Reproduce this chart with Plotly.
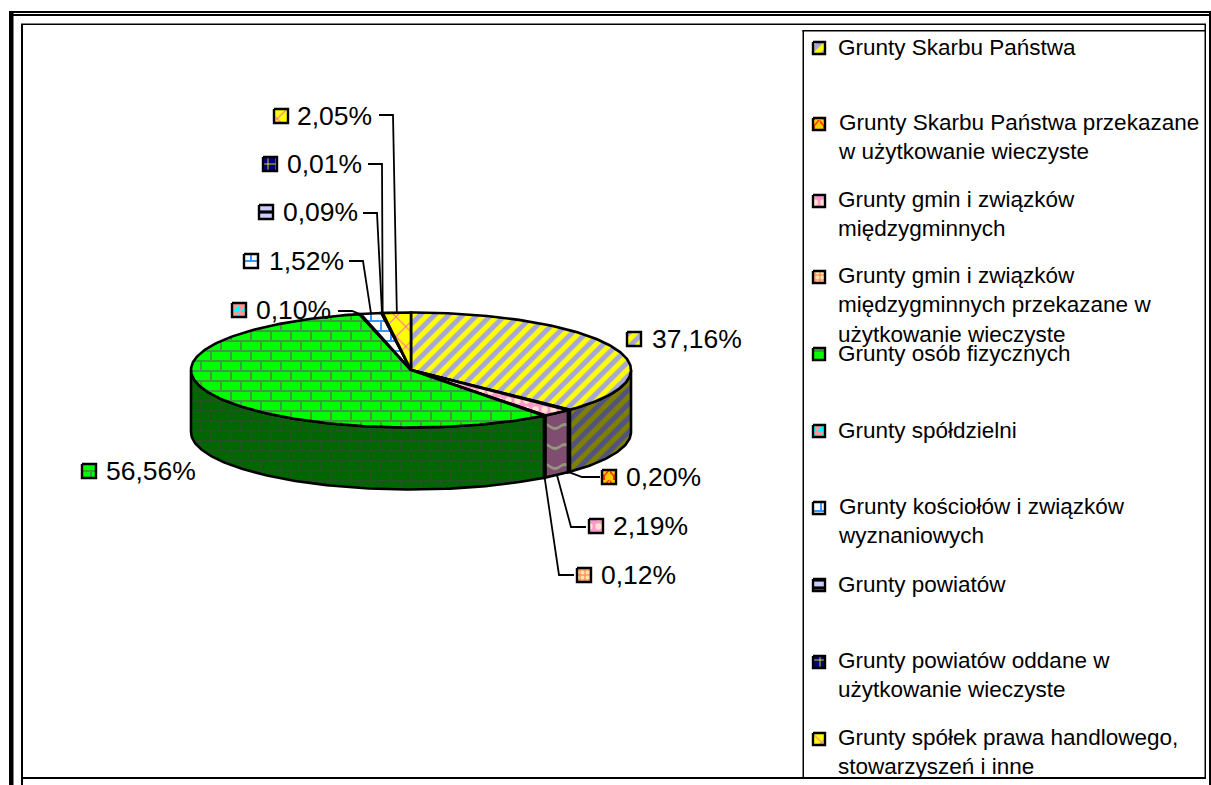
import numpy as np
import plotly.graph_objects as go

# ---- data ----
categories = [
    "Grunty Skarbu Państwa",
    "Grunty Skarbu Państwa przekazane<br>w użytkowanie wieczyste",
    "Grunty gmin i związków<br>międzygminnych",
    "Grunty gmin i związków<br>międzygminnych przekazane w<br>użytkowanie wieczyste",
    "Grunty osób fizycznych",
    "Grunty spółdzielni",
    "Grunty kościołów i związków<br>wyznaniowych",
    "Grunty powiatów",
    "Grunty powiatów oddane w<br>użytkowanie wieczyste",
    "Grunty spółek prawa handlowego,<br>stowarzyszeń i inne",
]
values = [37.16, 0.20, 2.19, 0.12, 56.56, 0.10, 1.52, 0.09, 0.01, 2.05]
value_labels = ["37,16%", "0,20%", "2,19%", "0,12%", "56,56%", "0,10%", "1,52%", "0,09%", "0,01%", "2,05%"]

# ---- layout (pixel-mapped axes) ----
W, H = 1211, 785
CX, CY, RX, RY, DEPTH = 411, 370, 220, 57.5, 62

BRICK = "M0 0H20V2H0Z M0 10H20V12H0Z M0 0H2V10H0Z M10 10H12V20H10Z"
WAVE = "M0 5Q5 1 10 5T20 5V8Q15 12 10 8T0 8Z"
TRIANGLE = "M0 0H8L0 8Z"
VEIN = "M0 0L4 5L8 0L10 0L5 6L5 10L3 10L3 6L0 3Z"

styles = [
    dict(top=dict(bgcolor="#FFFF00", fgcolor="#A6A6DA", shape="/", size=10, solidity=0.5, fgopacity=1),
         side=dict(bgcolor="#7F7F00", fgcolor="#53537F", shape="/", size=10, solidity=0.5, fgopacity=1)),
    dict(top=dict(bgcolor="#FFCC00", fgcolor="#FF3300", path=VEIN, size=10, fgopacity=1),
         side=dict(bgcolor="#7F6600", fgcolor="#7F1900", path=VEIN, size=10, fgopacity=1)),
    dict(top=dict(bgcolor="#FF99CC", fgcolor="#FFE5CC", shape=".", size=9, solidity=0.4, fgopacity=1),
         side=dict(bgcolor="#7F4D70", fgcolor="#959580", path=WAVE, size=20, fgopacity=1)),
    dict(top=dict(bgcolor="#FF9966", fgcolor="#FFE5B0", shape=".", size=5, solidity=0.5, fgopacity=1),
         side=dict(bgcolor="#7F4D33", fgcolor="#7F7058", shape=".", size=5, solidity=0.5, fgopacity=1)),
    dict(top=dict(bgcolor="#00FF00", fgcolor="#3E9B3E", path=BRICK, size=20, fgopacity=1),
         side=dict(bgcolor="#006600", fgcolor="#1F531F", path=BRICK, size=20, fgopacity=1)),
    dict(top=dict(bgcolor="#00FFFF", fgcolor="#FF9999", path=TRIANGLE, size=8, fgopacity=1),
         side=dict(bgcolor="#007F7F", fgcolor="#7F4D4D", path=TRIANGLE, size=8, fgopacity=1)),
    dict(top=dict(bgcolor="#FFFFFF", fgcolor="#3399FF", path=BRICK, size=20, fgopacity=1),
         side=dict(bgcolor="#7F7F7F", fgcolor="#194D7F", path=BRICK, size=20, fgopacity=1)),
    dict(top=dict(bgcolor="#CCCCFF", fgcolor="#000000", shape="-", size=8, solidity=0.4, fgopacity=1),
         side=dict(bgcolor="#66667F", fgcolor="#000000", shape="-", size=8, solidity=0.4, fgopacity=1)),
    dict(top=dict(bgcolor="#000080", fgcolor="#FFFF00", shape="+", size=8, solidity=0.2, fgopacity=1),
         side=dict(bgcolor="#000040", fgcolor="#7F7F00", shape="+", size=8, solidity=0.2, fgopacity=1)),
    dict(top=dict(bgcolor="#FFFF00", fgcolor="#FF66CC", shape="x", size=14, solidity=0.14, fgopacity=1),
         side=dict(bgcolor="#7F7F00", fgcolor="#7F3366", shape="x", size=14, solidity=0.14, fgopacity=1)),
]

legend_text_y = [47, 137, 214, 305, 353, 430, 521, 584, 675, 752]
legend_key_y = [48, 124, 201, 277, 354, 431, 508, 585, 662, 739]
LEG_KEY_X, LEG_TEXT_X, LEG_KEY, LEG_FONT = 819, 836, 12, 22.5

label_key_xy = [(634, 339), (609, 477), (596, 526), (584, 575), (89, 471),
                (239, 310), (251, 261), (266, 212), (270, 164), (281, 116)]
label_text_x = [650, 624, 611, 599, 104, 254, 267, 281, 285, 295]
label_elbows = [None,
                [(582, 477), (600, 477)],
                [(571, 527), (586, 527)],
                [(559, 575), (574, 575)],
                None,
                [(352, 311), (338, 311)],
                [(363, 261), (349, 261)],
                [(377, 213), (363, 213)],
                [(382, 164), (368, 164)],
                [(393, 115), (379, 115)]]
LAB_KEY, LAB_FONT = 14, 26.5

# ---- geometry derived from values ----
edges = np.concatenate([[0], np.cumsum(values)]) / sum(values) * 2 * np.pi


def ell(t, dy=0.0):
    return CX + RX * np.sin(t), CY - RY * np.cos(t) + dy


fig = go.Figure()


def poly(xs, ys, pattern, width=2.6):
    fig.add_trace(go.Scatter(
        x=list(xs), y=list(ys), mode="lines", fill="toself",
        fillcolor=pattern["bgcolor"], fillpattern=pattern,
        line=dict(color="#000000", width=width), hoverinfo="skip", showlegend=False))


# sides (visible on the front half only)
for i in range(len(values)):
    a, b = max(edges[i], np.pi / 2), min(edges[i + 1], 3 * np.pi / 2)
    if b <= a:
        continue
    t = np.linspace(a, b, max(3, int((b - a) * 60)))
    x1, y1 = ell(t)
    x2, y2 = ell(t[::-1], DEPTH)
    poly(np.r_[x1, x2, x1[0]], np.r_[y1, y2, y1[0]], styles[i]["side"])

# top faces
for i in range(len(values)):
    t = np.linspace(edges[i], edges[i + 1], max(3, int((edges[i + 1] - edges[i]) * 60)))
    x, y = ell(t)
    poly(np.r_[CX, x, CX], np.r_[CY, y, CY], styles[i]["top"])


# leader lines
for i, elbow in enumerate(label_elbows):
    if elbow is None:
        continue
    mid = (edges[i] + edges[i + 1]) / 2
    front = np.pi / 2 < mid < 3 * np.pi / 2
    x0, y0 = ell(mid, DEPTH if front else 0)
    xs = [float(x0)] + [p[0] for p in elbow]
    ys = [float(y0)] + [p[1] for p in elbow]
    fig.add_trace(go.Scatter(x=xs, y=ys, mode="lines", line=dict(color="#000000", width=1.8),
                             hoverinfo="skip", showlegend=False))

annotations = []


def key(cx, cy, size, pattern):
    h = size / 2
    poly([cx - h, cx + h, cx + h, cx - h, cx - h], [cy - h, cy - h, cy + h, cy + h, cy - h], pattern, 2.4)


def text(x, y, s, size):
    annotations.append(dict(x=x, y=y, xref="x", yref="y", text=s, showarrow=False,
                            xanchor="left", yanchor="middle", align="left",
                            font=dict(family="Liberation Sans", size=size, color="#000000")))


# data labels
for i, lab in enumerate(value_labels):
    kx, ky = label_key_xy[i]
    key(kx, ky, LAB_KEY, styles[i]["top"])
    text(label_text_x[i], ky, lab, LAB_FONT)

# legend block
for i, cat in enumerate(categories):
    key(LEG_KEY_X, legend_key_y[i], LEG_KEY, styles[i]["top"])
    text(LEG_TEXT_X, legend_text_y[i], cat, LEG_FONT)


def rect(x0, y0, x1, y1):
    return dict(type="rect", xref="x", yref="y", x0=x0, y0=y0, x1=x1, y1=y1,
                fillcolor="#000000", line=dict(width=0), layer="above")


frame = [
    rect(9, 11, 1211, 13), rect(13, 14, 1210, 16),      # outer top double rule
    rect(9, 11, 13.5, 785), rect(1209, 11, 1211, 785),  # outer sides
    rect(21, 23.5, 1206, 25), rect(21, 24, 23, 785),    # inner frame
    rect(1204.5, 24, 1206, 778), rect(21, 777, 1206, 779),
    rect(802.5, 30, 1205, 31.5), rect(802.5, 30, 804, 778),  # legend box
]

fig.update_layout(
    width=W, height=H, margin=dict(l=0, r=0, t=0, b=0),
    paper_bgcolor="#FFFFFF", plot_bgcolor="#FFFFFF", showlegend=False,
    xaxis=dict(range=[0, W], visible=False, fixedrange=True),
    yaxis=dict(range=[H, 0], visible=False, fixedrange=True),
    annotations=annotations, shapes=frame,
)

fig.write_html("out.html", config={"displayModeBar": False},
               post_script="document.body.style.margin='0';")
